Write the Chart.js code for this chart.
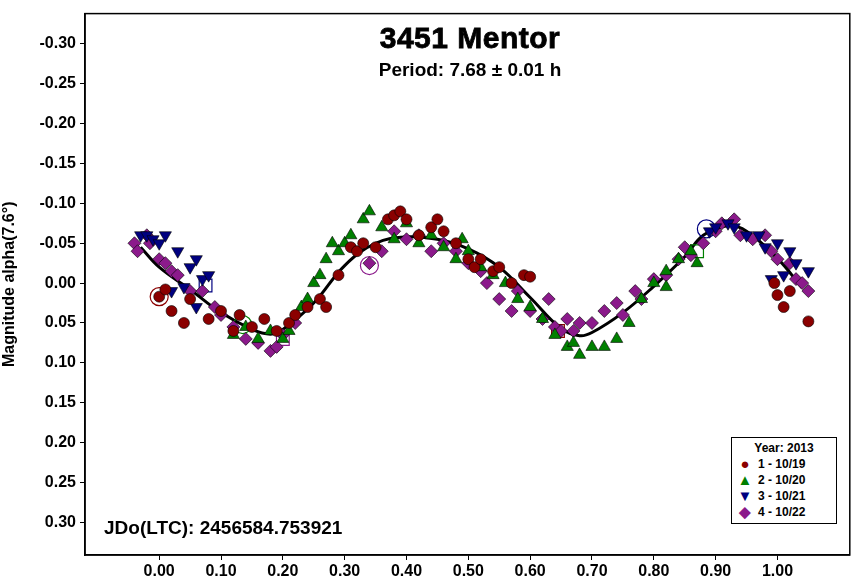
<!DOCTYPE html>
<html>
<head>
<meta charset="utf-8">
<script src="https://cdn.jsdelivr.net/npm/chart.js@4.4.0/dist/chart.umd.min.js"></script>
<style>
  body { margin: 0; background: #fff; font-family: "Liberation Sans", Arial, sans-serif; }
  #wrap { position: relative; width: 860px; height: 587px; }
  .ov { position: absolute; font-weight: bold; color: #000; }
  #legend { position: absolute; left: 731px; top: 437px; width: 104px; border: 1px solid #000; background: #fff; font-size: 12px; font-weight: bold; padding: 2px 0 3px 0; }
  #legend div { height: 16px; line-height: 16px; }
  .sym { display: inline-block; width: 26px; text-align: center; font-size: 15px; vertical-align: top; }
</style>
</head>
<body>
<div id="wrap">
  <canvas id="chart" width="860" height="587"></canvas>
  <div class="ov" style="left:0;width:940px;top:21px;text-align:center;font-size:30px;letter-spacing:0.5px;-webkit-text-stroke:0.8px #000;">3451 Mentor</div>
  <div class="ov" style="left:0;width:940px;top:59px;text-align:center;font-size:19px;">Period: 7.68 ± 0.01 h</div>
  <div class="ov" style="left:104px;top:517px;font-size:19px;">JDo(LTC): 2456584.753921</div>
  <div id="legend">
    <div style="text-align:center;">Year: 2013</div>
    <div><span class="sym" style="color:#8b0000">●</span>1 - 10/19</div>
    <div><span class="sym" style="color:#008000">▲</span>2 - 10/20</div>
    <div><span class="sym" style="color:#000080">▼</span>3 - 10/21</div>
    <div><span class="sym" style="color:#8b1a8b">◆</span>4 - 10/22</div>
  </div>
</div>
<script>
// phase / magnitude pairs
const xTicks = [0, 0.1, 0.2, 0.3, 0.4, 0.5, 0.6, 0.7, 0.8, 0.9, 1.0];
const yTicks = [-0.30, -0.25, -0.20, -0.15, -0.10, -0.05, 0, 0.05, 0.10, 0.15, 0.20, 0.25, 0.30];

const night1 = [[0.0,0.017],[0.01,0.008],[0.02,0.035],[0.04,0.05],[0.05,0.02],[0.08,0.045],[0.10,0.035],[0.12,0.06],[0.13,0.04],
  [0.15,0.055],[0.17,0.045],[0.19,0.06],[0.21,0.05],[0.22,0.04],[0.24,0.03],[0.26,0.02],[0.27,0.03],[0.29,-0.01],[0.31,-0.045],
  [0.32,-0.04],[0.33,-0.05],[0.35,-0.045],[0.37,-0.08],[0.38,-0.085],[0.39,-0.09],[0.40,-0.08],[0.42,-0.06],[0.44,-0.07],
  [0.45,-0.08],[0.46,-0.065],[0.48,-0.05],[0.50,-0.03],[0.51,-0.02],[0.52,-0.03],[0.54,-0.015],[0.55,-0.02],[0.57,0.0],
  [0.59,-0.01],[0.60,-0.008],[0.995,0.0],[1.0,0.015],[1.01,0.03],[1.02,0.01],[1.05,0.048]];
const night2 = [[0.12,0.065],[0.14,0.055],[0.16,0.07],[0.18,0.06],[0.20,0.07],[0.21,0.06],[0.23,0.03],[0.24,0.02],[0.25,0.0],
  [0.26,-0.01],[0.27,-0.03],[0.28,-0.05],[0.29,-0.04],[0.30,-0.05],[0.31,-0.06],[0.33,-0.08],[0.34,-0.09],[0.36,-0.07],
  [0.38,-0.055],[0.40,-0.075],[0.42,-0.05],[0.44,-0.06],[0.46,-0.045],[0.48,-0.03],[0.49,-0.055],[0.50,-0.04],[0.52,-0.02],
  [0.54,-0.01],[0.56,0.0],[0.58,0.02],[0.60,0.03],[0.62,0.045],[0.64,0.065],[0.66,0.08],[0.67,0.075],[0.68,0.09],[0.70,0.08],
  [0.72,0.08],[0.74,0.07],[0.76,0.05],[0.78,0.02],[0.80,0.0],[0.82,0.005],[0.82,-0.015],[0.84,-0.03],[0.86,-0.04],[0.87,-0.025]];
const night3 = [[-0.03,-0.06],[-0.02,-0.06],[-0.01,-0.055],[0.0,-0.05],[0.01,-0.06],[0.03,-0.04],[0.05,-0.02],[0.06,-0.03],
  [0.07,-0.005],[0.08,-0.01],[0.02,0.01],[0.04,0.005],[0.06,0.03],[0.89,-0.065],[0.90,-0.07],[0.92,-0.075],[0.93,-0.07],
  [0.95,-0.06],[0.97,-0.06],[0.98,-0.045],[1.0,-0.05],[1.02,-0.04],[1.03,-0.025],[1.05,-0.015],[0.99,-0.005],[1.01,-0.01]];
const night4 = [[-0.04,-0.05],[-0.035,-0.04],[-0.02,-0.06],[-0.015,-0.05],[0.0,-0.03],[0.01,-0.025],[0.02,-0.015],[0.03,-0.01],
  [0.05,0.01],[0.07,0.01],[0.09,0.03],[0.10,0.04],[0.12,0.055],[0.14,0.07],[0.16,0.075],[0.18,0.085],[0.19,0.08],[0.20,0.065],
  [0.22,0.05],[0.34,-0.025],[0.36,-0.04],[0.38,-0.065],[0.40,-0.055],[0.42,-0.06],[0.44,-0.04],[0.46,-0.05],[0.48,-0.04],
  [0.50,-0.025],[0.52,-0.015],[0.53,0.0],[0.55,0.02],[0.57,0.035],[0.58,0.01],[0.60,0.035],[0.62,0.045],[0.63,0.02],[0.64,0.055],
  [0.65,0.06],[0.66,0.045],[0.67,0.06],[0.68,0.05],[0.70,0.05],[0.72,0.035],[0.74,0.025],[0.75,0.04],[0.77,0.01],[0.78,0.02],
  [0.80,-0.005],[0.82,-0.01],[0.84,-0.03],[0.85,-0.045],[0.86,-0.035],[0.88,-0.05],[0.90,-0.065],[0.91,-0.075],[0.93,-0.08],
  [0.94,-0.06],[0.96,-0.055],[0.98,-0.06],[0.99,-0.04],[1.00,-0.03],[1.02,-0.025],[1.03,-0.005],[1.04,0.0],[1.05,0.01]];
// Fourier fit curve
const fitCurve = [[-0.03,-0.045],[0.0,-0.02],[0.05,0.008],[0.10,0.037],[0.15,0.058],[0.18,0.064],[0.20,0.058],[0.25,0.025],
  [0.30,-0.022],[0.35,-0.05],[0.40,-0.058],[0.45,-0.055],[0.50,-0.043],[0.55,-0.02],[0.60,0.018],[0.65,0.057],[0.68,0.066],
  [0.70,0.062],[0.75,0.037],[0.80,0.004],[0.85,-0.033],[0.88,-0.06],[0.92,-0.072],[0.95,-0.065],[1.00,-0.031],[1.04,0.006]];
// first/last points of each night (open markers)
const markX = [0.0, 0.34, 0.135, 0.885, 0.075, 0.20, 0.645, 0.87];
const markY = [0.017, -0.022, 0.052, -0.068, 0.003, 0.07, 0.06, -0.04];
const markStyle = ['circle','circle','circle','circle','rect','rect','rect','rect'];
const markColor = ['#8b0000','#8b1a8b','#008000','#000080','#000080','#8b1a8b','#8b0000','#008000'];

const toPts = a => a.map(p => ({x: p[0], y: p[1]}));
const font = {family: '"Liberation Sans", Arial, sans-serif', size: 16, weight: 'bold'};

new Chart(document.getElementById('chart'), {
  type: 'scatter',
  data: {
    datasets: [
      {data: toPts(night1), pointStyle: 'circle', pointRadius: 5.5, backgroundColor: '#8b0000', borderColor: '#000', borderWidth: 0.6},
      {data: toPts(night2), pointStyle: 'triangle', pointRadius: 7, backgroundColor: '#008000', borderColor: '#000', borderWidth: 0.6},
      {data: toPts(night3), pointStyle: 'triangle', rotation: 180, pointRadius: 7, backgroundColor: '#000080', borderColor: '#000', borderWidth: 0.6},
      {data: toPts(night4), pointStyle: 'rectRot', pointRadius: 6.5, backgroundColor: '#8b1a8b', borderColor: '#000', borderWidth: 0.6},
      {data: markX.map((x, i) => ({x, y: markY[i]})), pointStyle: markStyle, pointRadius: 9,
       backgroundColor: 'rgba(0,0,0,0)', borderColor: markColor, borderWidth: 1.2},
      {type: 'line', data: toPts(fitCurve), showLine: true, pointRadius: 0, borderColor: '#000', borderWidth: 3, tension: 0.4, fill: false}
    ]
  },
  options: {
    responsive: false,
    animation: false,
    layout: {padding: {top: 8, right: 10, left: 0, bottom: 0}},
    plugins: {legend: {display: false}, tooltip: {enabled: false}},
    scales: {
      x: {
        min: -0.12, max: 1.117,
        afterBuildTicks: s => { s.ticks = xTicks.map(v => ({value: v})); },
        ticks: {font, color: '#000', callback: v => Number(v).toFixed(2), maxRotation: 0, padding: 2},
        grid: {drawOnChartArea: false, color: '#000', tickLength: 5},
        border: {color: '#000', width: 1.5},
        afterFit: s => { s.height = 32; }
      },
      y: {
        reverse: true, min: -0.338, max: 0.341,
        afterBuildTicks: s => { s.ticks = yTicks.map(v => ({value: v})); },
        ticks: {font, color: '#000', callback: v => Number(v).toFixed(2), padding: 4},
        grid: {drawOnChartArea: false, color: '#000', tickLength: 5},
        border: {color: '#000', width: 1.5},
        title: {display: true, text: 'Magnitude alpha(7.6°)', font: {family: font.family, size: 16, weight: 'bold'}, color: '#000', padding: 0},
        afterFit: s => { s.width = 85; }
      }
    }
  },
  plugins: [{
    id: 'frame',
    afterDraw(c) {
      const a = c.chartArea, ctx = c.ctx;
      ctx.save(); ctx.strokeStyle = '#000'; ctx.lineWidth = 1.5;
      ctx.strokeRect(a.left, a.top, a.right - a.left, a.bottom - a.top);
      ctx.restore();
    }
  }]
});
</script>
</body>
</html>
